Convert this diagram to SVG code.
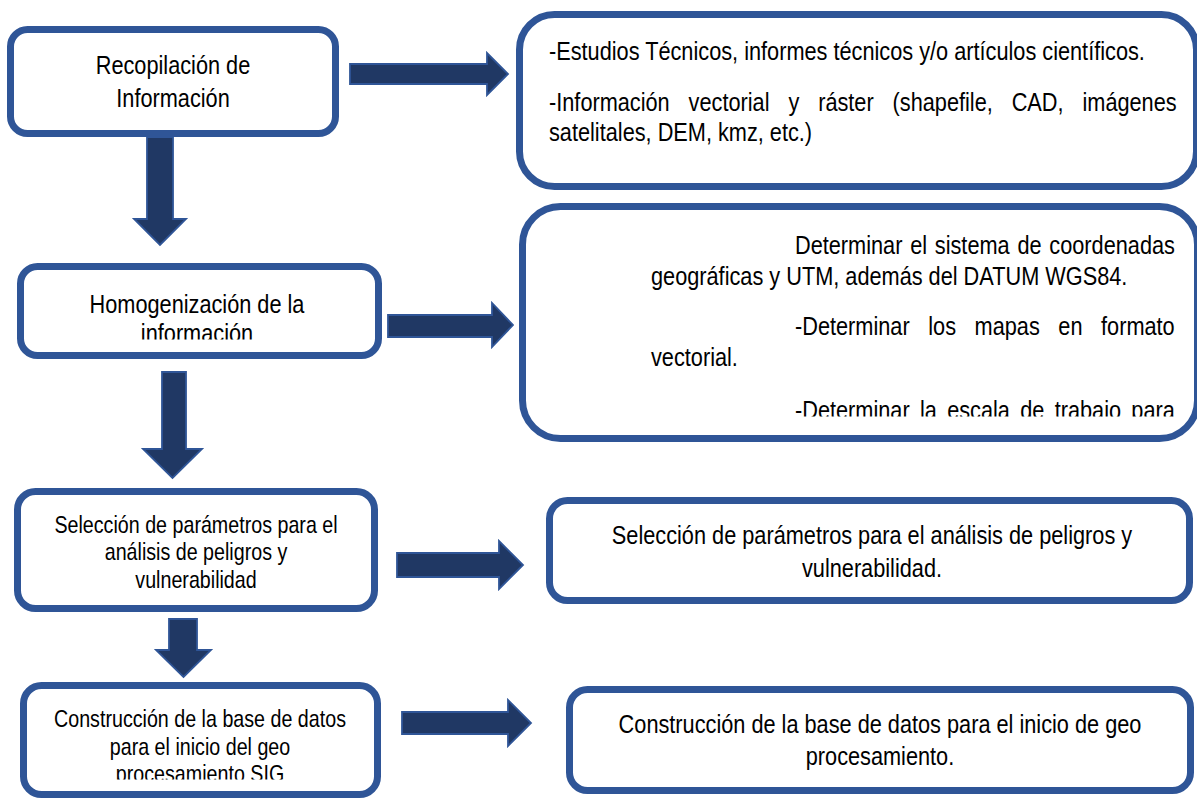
<svg xmlns="http://www.w3.org/2000/svg" width="1197" height="798" viewBox="0 0 1197 798">
<style>
.box{fill:#fff;stroke:#2F5597;stroke-width:7}
.arr{fill:#203864;stroke:#2F5597;stroke-width:1.8;stroke-linejoin:miter}
text{font-family:"Liberation Sans",Arial,sans-serif;fill:#000}
.c{text-anchor:middle}
.f1{font-size:26.5px}
.f2{font-size:24px}
</style>
<defs>
<clipPath id="c3"><rect x="0" y="250" width="400" height="89.5"/></clipPath>
<clipPath id="c4"><rect x="520" y="380" width="680" height="36.5"/></clipPath>
<clipPath id="c6"><rect x="0" y="740" width="400" height="39.5"/></clipPath>
</defs>
<g id="connectors">
<polygon class="arr" points="350,64 487,64 487,53 508,74 487,95 487,84 350,84"/>
<polygon class="arr" points="388,315 492,315 492,303 513,325 492,347 492,337 388,337"/>
<polygon class="arr" points="397,553 499,553 499,541 523,565 499,589 499,577 397,577"/>
<polygon class="arr" points="402,712 508,712 508,700 531,723 508,746 508,734 402,734"/>
<polygon class="arr" points="147,137 173,137 173,219 186,219 160,245 134,219 147,219"/>
<polygon class="arr" points="162,372 186,372 186,449 202,449 172.5,478 143,449 162,449"/>
<polygon class="arr" points="169,619 197,619 197,650 211,650 183.5,677 156,650 169,650"/>
</g>
<g id="n1">
<rect class="box" x="10.5" y="29.5" width="325" height="104" rx="17"/>
<text class="c f1" transform="translate(173,0) scale(0.82,1)" y="74">Recopilación de</text>
<text class="c f1" transform="translate(173,0) scale(0.82,1)" y="107">Información</text>
</g>
<g id="n2">
<rect class="box" x="519.5" y="14.5" width="677" height="172" rx="35"/>
<text class="f1" transform="translate(549,0) scale(0.82,1)" y="60">-Estudios Técnicos, informes técnicos y/o artículos científicos.</text>
<text class="f1" transform="translate(549,0) scale(0.82,1)" y="111" word-spacing="15.7">-Información vectorial y ráster (shapefile, CAD, imágenes</text>
<text class="f1" transform="translate(549,0) scale(0.82,1)" y="141">satelitales, DEM, kmz, etc.)</text>
</g>
<g id="n3">
<rect class="box" x="20.5" y="266.5" width="358" height="89" rx="17"/>
<text class="c f1" transform="translate(197,0) scale(0.82,1)" y="313">Homogenización de la</text>
<g clip-path="url(#c3)">
<text class="c f1" transform="translate(197,0) scale(0.82,1)" y="342">información</text>
</g>
</g>
<g id="n4">
<rect class="box" x="522.5" y="206.5" width="675" height="232" rx="38"/>
<text class="f1" transform="translate(795,0) scale(0.82,1)" y="254" word-spacing="2.1">Determinar el sistema de coordenadas</text>
<text class="f1" transform="translate(651,0) scale(0.82,1)" y="285">geográficas y UTM, además del DATUM WGS84.</text>
<text class="f1" transform="translate(795,0) scale(0.82,1)" y="335" word-spacing="15.3">-Determinar los mapas en formato</text>
<text class="f1" transform="translate(651,0) scale(0.82,1)" y="366">vectorial.</text>
<g clip-path="url(#c4)">
<text class="f1" transform="translate(795,0) scale(0.82,1)" y="419" word-spacing="5.2">-Determinar la escala de trabajo para</text>
</g>
</g>
<g id="n5">
<rect class="box" x="17.5" y="491.5" width="357" height="117" rx="18"/>
<text class="c f2" transform="translate(196,0) scale(0.82,1)" y="533">Selección de parámetros para el</text>
<text class="c f2" transform="translate(196,0) scale(0.82,1)" y="560">análisis de peligros y</text>
<text class="c f2" transform="translate(196,0) scale(0.82,1)" y="588">vulnerabilidad</text>
</g>
<g id="n6">
<rect class="box" x="23.5" y="685.5" width="354" height="109" rx="18"/>
<text class="c f2" transform="translate(200,0) scale(0.82,1)" y="727">Construcción de la base de datos</text>
<text class="c f2" transform="translate(200,0) scale(0.82,1)" y="755">para el inicio del geo</text>
<g clip-path="url(#c6)">
<text class="c f2" transform="translate(200,0) scale(0.82,1)" y="782">procesamiento SIG</text>
</g>
</g>
<g id="n7">
<rect class="box" x="549.5" y="500.5" width="640" height="100" rx="18"/>
<text class="c f1" transform="translate(872,0) scale(0.82,1)" y="544">Selección de parámetros para el análisis de peligros y</text>
<text class="c f1" transform="translate(872,0) scale(0.82,1)" y="577">vulnerabilidad.</text>
</g>
<g id="n8">
<rect class="box" x="569.5" y="689.5" width="621" height="101" rx="18"/>
<text class="c f1" transform="translate(880,0) scale(0.82,1)" y="733">Construcción de la base de datos para el inicio de geo</text>
<text class="c f1" transform="translate(880,0) scale(0.82,1)" y="765">procesamiento.</text>
</g>
</svg>
